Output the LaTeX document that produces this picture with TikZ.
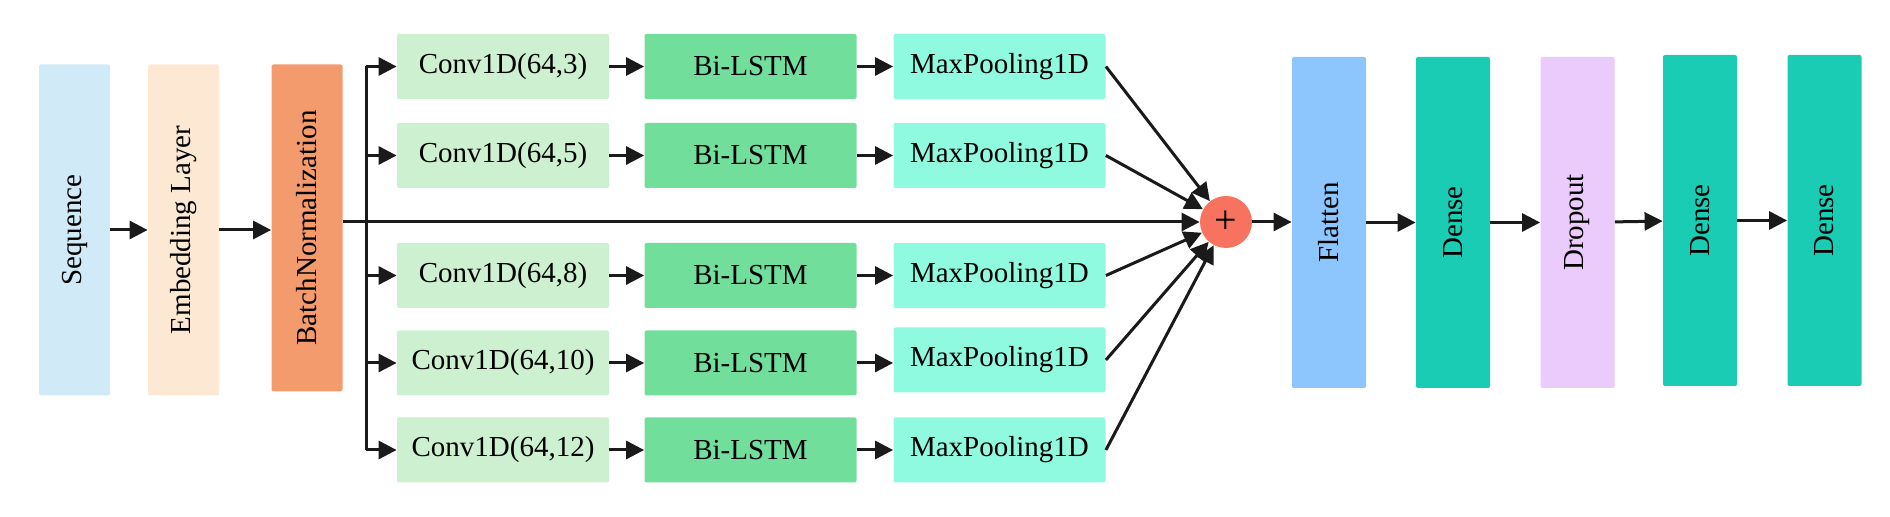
\documentclass[tikz,border=0pt]{standalone}
\usepackage{graphicx}
\usepackage{fontspec}
\setmainfont{Liberation Serif}
\usetikzlibrary{arrows.meta,positioning,calc}
\definecolor{SQ}{HTML}{D0EBF7}
\definecolor{EM}{HTML}{FDE9D3}
\definecolor{BN}{HTML}{F49B6E}
\definecolor{CV}{HTML}{CDF0D0}
\definecolor{LS}{HTML}{72DE9C}
\definecolor{MP}{HTML}{8FFADF}
\definecolor{FL}{HTML}{8CC6FD}
\definecolor{DN}{HTML}{1ACCB3}
\definecolor{DO}{HTML}{EBCAFC}
\definecolor{PL}{HTML}{F7735F}
\definecolor{AR}{HTML}{1A1A1A}

\begin{document}
\begin{tikzpicture}[x=0.5pt,y=-0.5pt,
    font=\fontsize{14.5}{17}\selectfont,
    blk/.style={fill=#1, rounded corners=1pt, inner sep=0pt,
                minimum width=106pt, minimum height=32.5pt},
    vblk/.style={fill=#1, rounded corners=1pt, inner sep=0pt,
                 minimum width=35.5pt, minimum height=165.5pt},
    wblk/.style={fill=#1, rounded corners=1pt, inner sep=0pt,
                 minimum width=37pt, minimum height=165.5pt},
    arr/.style={draw=AR, line width=1.5pt, -{Triangle[length=9pt,width=9pt]}}]

  \useasboundingbox (0,0) rectangle (1890,517);

  % input side
  \node[vblk=SQ] (seq) at (74.5,230) {\rotatebox{90}{Sequence}};
  \node[vblk=EM] (emb) at (183.5,230) {\rotatebox{90}{Embedding Layer}};
  \node[vblk=BN, minimum height=163.5pt] (bn) at (307,228) {\rotatebox{90}{BatchNormalization}};

  % branches
  \node[blk=CV] (c1) at (503,66.5) {Conv1D(64,3)};
  \node[blk=LS] (l1) at (750.5,66.5) {Bi-LSTM};
  \node[blk=MP] (m1) at (999.5,66.5) {MaxPooling1D};

  \node[blk=CV] (c2) at (503,155.5) {Conv1D(64,5)};
  \node[blk=LS] (l2) at (750.5,155.5) {Bi-LSTM};
  \node[blk=MP] (m2) at (999.5,155.5) {MaxPooling1D};

  \node[blk=CV] (c3) at (503,275.5) {Conv1D(64,8)};
  \node[blk=LS] (l3) at (750.5,275.5) {Bi-LSTM};
  \node[blk=MP] (m3) at (999.5,275.5) {MaxPooling1D};

  \node[blk=CV] (c4) at (503,363) {Conv1D(64,10)};
  \node[blk=LS] (l4) at (750.5,363) {Bi-LSTM};
  \node[blk=MP] (m4) at (999.5,360) {MaxPooling1D};

  \node[blk=CV] (c5) at (503,450) {Conv1D(64,12)};
  \node[blk=LS] (l5) at (750.5,450) {Bi-LSTM};
  \node[blk=MP] (m5) at (999.5,450) {MaxPooling1D};

  % merge and head
  \node[circle, fill=PL, inner sep=0pt, minimum size=26pt,
        font=\fontsize{20}{20}\selectfont] (add) at (1226,222) {+};
  \node[wblk=FL] (fl) at (1329,222.5) {\rotatebox{90}{Flatten}};
  \node[wblk=DN] (d1) at (1453,222.5) {\rotatebox{90}{Dense}};
  \node[wblk=DO] (dp) at (1577.5,222.5) {\rotatebox{90}{Dropout}};
  \node[wblk=DN] (d2) at (1700,220.5) {\rotatebox{90}{Dense}};
  \node[wblk=DN] (d3) at (1824.5,220.5) {\rotatebox{90}{Dense}};

  \coordinate (bus) at (366,0);

  % connectors
  \draw[arr] (seq.east) -- (emb.west);
  \draw[arr] (emb.east) -- (emb.east -| bn.west);
  \draw[arr] (bn.east |- add.west) -- (add.west);
  \draw[draw=AR, line width=1.5pt] (bus |- c1) -- (bus |- c5);
  \draw[arr] (bus |- c1) -- (c1.west);
  \draw[arr] (bus |- c2) -- (c2.west);
  \draw[arr] (bus |- c3) -- (c3.west);
  \draw[arr] (bus |- c4) -- (c4.west);
  \draw[arr] (bus |- c5) -- (c5.west);

  \draw[arr] (c1) -- (l1);
  \draw[arr] (l1) -- (m1);
  \draw[arr] (c2) -- (l2);
  \draw[arr] (l2) -- (m2);
  \draw[arr] (c3) -- (l3);
  \draw[arr] (l3) -- (m3);
  \draw[arr] (c4) -- (l4);
  \draw[arr] (l4) -- (m4.west |- l4);
  \draw[arr] (c5) -- (l5);
  \draw[arr] (l5) -- (m5);

  \draw[arr] (m1.east) -- (add);
  \draw[arr] (m2.east) -- (add);
  \draw[arr] (m3.east) -- (add);
  \draw[arr] (m4.east) -- (add);
  \draw[arr] (m5.east) -- (add);

  \draw[arr] (add) -- (add -| fl.west);
  \draw[arr] (fl) -- (d1);
  \draw[arr] (d1) -- (dp);
  \draw[arr] (dp) -- (d2);
  \draw[arr] (d2) -- (d3);
\end{tikzpicture}
\end{document}
